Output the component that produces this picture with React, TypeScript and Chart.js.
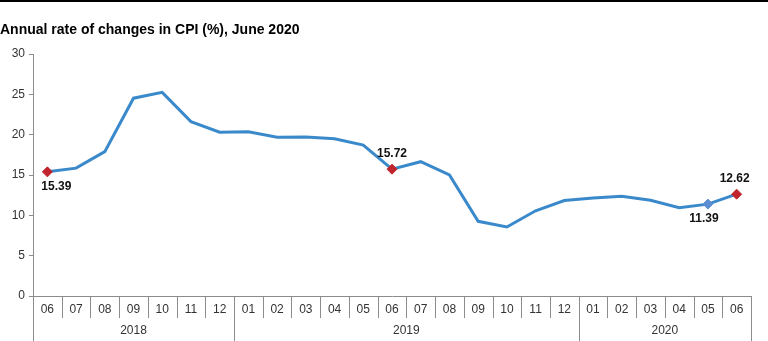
import React, { useEffect, useRef } from "react";
import { Chart, registerables } from "chart.js";

Chart.register(...registerables);

const titleText = "Annual rate of changes in CPI (%), June 2020";
const months = ["06","07","08","09","10","11","12","01","02","03","04","05","06","07","08","09","10","11","12","01","02","03","04","05","06"];
const cpi = [15.39,15.85,17.90,24.52,25.24,21.62,20.30,20.35,19.67,19.71,19.50,18.71,15.72,16.65,15.01,9.26,8.55,10.56,11.84,12.15,12.37,11.86,10.94,11.39,12.62];
const years = ["2018", "2019", "2020"];
const yearStarts = [0, 7, 19];
const yTicks = [0, 5, 10, 15, 20, 25, 30];
const labeledIdx = [0, 12, 23, 24];
const labelPlace = ["below", "above", "below", "above"];
const redIdx = [0, 12, 24];
const blueIdx = [23];

const FONT = "'Liberation Sans', Arial, sans-serif";
const AXIS = "#8c8c8c";

export default function App() {
  const ref = useRef<HTMLCanvasElement>(null);
  useEffect(() => {
    document.body.style.margin = "0";
    const canvas = ref.current!;
    const deco = {
      id: "deco",
      beforeDraw(chart: any) {
        const c = chart.ctx;
        c.save();
        c.fillStyle = "#000";
        c.fillRect(0, 0, chart.width, 2);
        c.font = `bold 14px ${FONT}`;
        c.textAlign = "left";
        c.textBaseline = "middle";
        c.fillStyle = "#000";
        c.fillText(titleText, 0, 30);
        c.restore();
      },
      afterDraw(chart: any) {
        const c = chart.ctx;
        const x = chart.scales.x;
        const bottom = chart.chartArea.bottom;
        const half = (x.getPixelForValue(1) - x.getPixelForValue(0)) / 2;
        c.save();
        c.strokeStyle = AXIS;
        c.lineWidth = 1;
        for (let i = 0; i <= months.length; i++) {
          const px = Math.round(x.getPixelForValue(i) - half) + 0.5;
          const isYear = yearStarts.includes(i) || i === months.length;
          c.beginPath();
          c.moveTo(px, bottom);
          c.lineTo(px, isYear ? chart.height : bottom + 22);
          c.stroke();
        }
        c.font = `12px ${FONT}`;
        c.fillStyle = "#333";
        c.textAlign = "center";
        c.textBaseline = "middle";
        years.forEach((y, k) => {
          const s = yearStarts[k];
          const e = k + 1 < yearStarts.length ? yearStarts[k + 1] : months.length;
          const l = x.getPixelForValue(s) - half;
          const r = x.getPixelForValue(e) - half;
          c.fillText(y, (l + r) / 2, bottom + 35);
        });
        const meta = chart.getDatasetMeta(0);
        c.font = `bold 12px ${FONT}`;
        c.fillStyle = "#111";
        labeledIdx.forEach((idx, k) => {
          const p = meta.data[idx];
          const dy = labelPlace[k] === "above" ? -16 : 15;
          let dx = 0;
          if (idx === 0) dx = 9;
          if (idx === 23) dx = -4;
          if (idx === 24) dx = -2;
          c.fillText(cpi[idx].toFixed(2), p.x + dx, p.y + dy);
        });
        c.restore();
      },
    };
    const chart = new Chart(canvas, {
      type: "line",
      data: {
        labels: months,
        datasets: [
          {
            data: cpi,
            borderColor: "#3A8ACB",
            borderWidth: 3,
            tension: 0,
            pointStyle: "rectRot",
            pointRadius: months.map((_, i) => (redIdx.includes(i) || blueIdx.includes(i) ? 5 : 0)),
            pointBackgroundColor: months.map((_, i) => (redIdx.includes(i) ? "#C0252D" : "#5C8FD2")),
            pointBorderColor: months.map((_, i) => (redIdx.includes(i) ? "#C0252D" : "#5C8FD2")),
            pointBorderWidth: 1,
          },
        ],
      },
      options: {
        animation: false,
        responsive: false,
        maintainAspectRatio: false,
        layout: { padding: { top: 54, right: 17, left: 0, bottom: 0 } },
        plugins: { legend: { display: false }, tooltip: { enabled: false }, title: { display: false } },
        scales: {
          x: {
            offset: true,
            grid: { display: false, drawOnChartArea: false, drawTicks: false },
            border: { display: true, color: AXIS, width: 1 },
            ticks: { color: "#333", font: { family: FONT, size: 12 }, padding: 6, maxRotation: 0, autoSkip: false },
            afterFit(s: any) { s.height = 45; },
          },
          y: {
            min: 0,
            max: 30,
            afterBuildTicks(s: any) { s.ticks = yTicks.map((v) => ({ value: v })); },
            grid: { drawOnChartArea: false, drawTicks: true, tickLength: 4, color: AXIS },
            border: { display: true, color: AXIS, width: 1 },
            ticks: { color: "#333", font: { family: FONT, size: 12 }, padding: 4 },
            afterFit(s: any) { s.width = 33; },
          },
        },
      },
      plugins: [deco],
    } as any);
    return () => chart.destroy();
  }, []);
  return (
    <div style={{ width: 768, height: 341, position: "relative", background: "#fff" }}>
      <canvas ref={ref} width={768} height={341} style={{ display: "block" }} />
    </div>
  );
}
